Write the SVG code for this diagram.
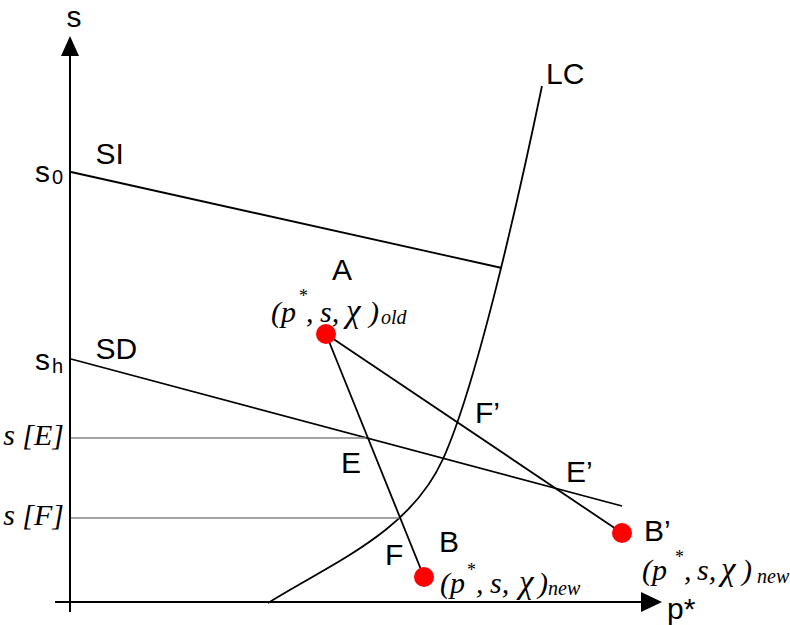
<svg xmlns="http://www.w3.org/2000/svg" width="790" height="625" viewBox="0 0 790 625">
<style>
.ax{stroke:#000;stroke-width:2;fill:none}
.ln{stroke:#000;stroke-width:1.8;fill:none}
.gr{stroke:#858585;stroke-width:1.7;fill:none}
.lbl{font-family:"Liberation Sans",Arial,sans-serif;font-size:30px;fill:#000}
.it{font-family:"Liberation Serif","Times New Roman",serif;font-style:italic;font-size:30px;fill:#000}
.chi{font-size:33px}
.sub{font-size:20px}
.sup{font-size:18px;font-style:normal}
.pt{fill:#ff0000}
</style>
<rect width="790" height="625" fill="#fff"/>
<g id="axes">
<line class="ax" x1="70" y1="54" x2="70" y2="612"/>
<polygon points="70,36 61,56 79,56" fill="#000"/>
<line class="ax" x1="55" y1="602" x2="643" y2="602"/>
<polygon points="662,602 641,592 641,612" fill="#000"/>
<text class="lbl" x="74" y="27" font-size="26" text-anchor="middle">s</text>
<text class="lbl" x="667" y="619" font-size="28">p*</text>
<text class="lbl" x="35" y="182" font-size="34">s<tspan x="52" y="184" font-size="20">0</tspan></text>
<text class="lbl" x="35" y="370" font-size="34">s<tspan x="52" y="373" font-size="20">h</tspan></text>
<text class="it" x="64" y="445" font-size="23" text-anchor="end">s [E]</text>
<text class="it" x="64" y="525" font-size="23" text-anchor="end">s [F]</text>
</g>
<g id="curves">
<line id="SI" class="ln" x1="71" y1="172" x2="502" y2="268"/>
<line id="SD" class="ln" x1="71" y1="359" x2="622" y2="506"/>
<path id="LC" class="ln" d="M268,603 C334,562 410,532 443,459 C476,386 517,206 542,86"/>
<text class="lbl" x="95.5" y="164">SI</text>
<text class="lbl" x="95.5" y="359">SD</text>
<text class="lbl" x="546" y="84">LC</text>
</g>
<g id="connectors">
<line class="gr" x1="71" y1="438" x2="366" y2="438"/>
<line class="gr" x1="71" y1="518" x2="400" y2="518"/>
<line class="ln" x1="326" y1="334" x2="424" y2="577"/>
<line class="ln" x1="326" y1="334" x2="622" y2="533"/>
</g>
<g id="labels">
<text class="lbl" x="341" y="473">E</text>
<text class="lbl" x="385" y="565">F</text>
<text class="lbl" x="475" y="423">F’</text>
<text class="lbl" x="566" y="482">E’</text>
</g>
<g id="node-A">
<circle class="pt" cx="326" cy="334" r="10"/>
<text class="lbl" x="332" y="280">A</text>
<text class="it" y="322"><tspan x="271">(p</tspan><tspan class="sup" x="299" y="302">*</tspan><tspan x="306" y="322">,</tspan><tspan x="320">s,</tspan><tspan class="chi" x="346">χ</tspan><tspan x="369">)</tspan><tspan class="sub" x="381" y="324">old</tspan></text>
</g>
<g id="node-B">
<circle class="pt" cx="424" cy="577" r="10"/>
<text class="lbl" x="439" y="552">B</text>
<text class="it" y="593"><tspan x="440">(p</tspan><tspan class="sup" x="467" y="576">*</tspan><tspan x="476" y="593">,</tspan><tspan x="490">s,</tspan><tspan class="chi" x="519">χ</tspan><tspan x="538">)</tspan><tspan class="sub" x="548" y="595">new</tspan></text>
</g>
<g id="node-Bp">
<circle class="pt" cx="622" cy="533" r="10"/>
<text class="lbl" x="644" y="541" font-size="28">B’</text>
<text class="it" y="580"><tspan x="642">(p</tspan><tspan class="sup" x="675" y="563">*</tspan><tspan x="684" y="580">,</tspan><tspan x="697">s,</tspan><tspan class="chi" x="721">χ</tspan><tspan x="742">)</tspan><tspan class="sub" x="757" y="583">new</tspan></text>
</g>
</svg>
